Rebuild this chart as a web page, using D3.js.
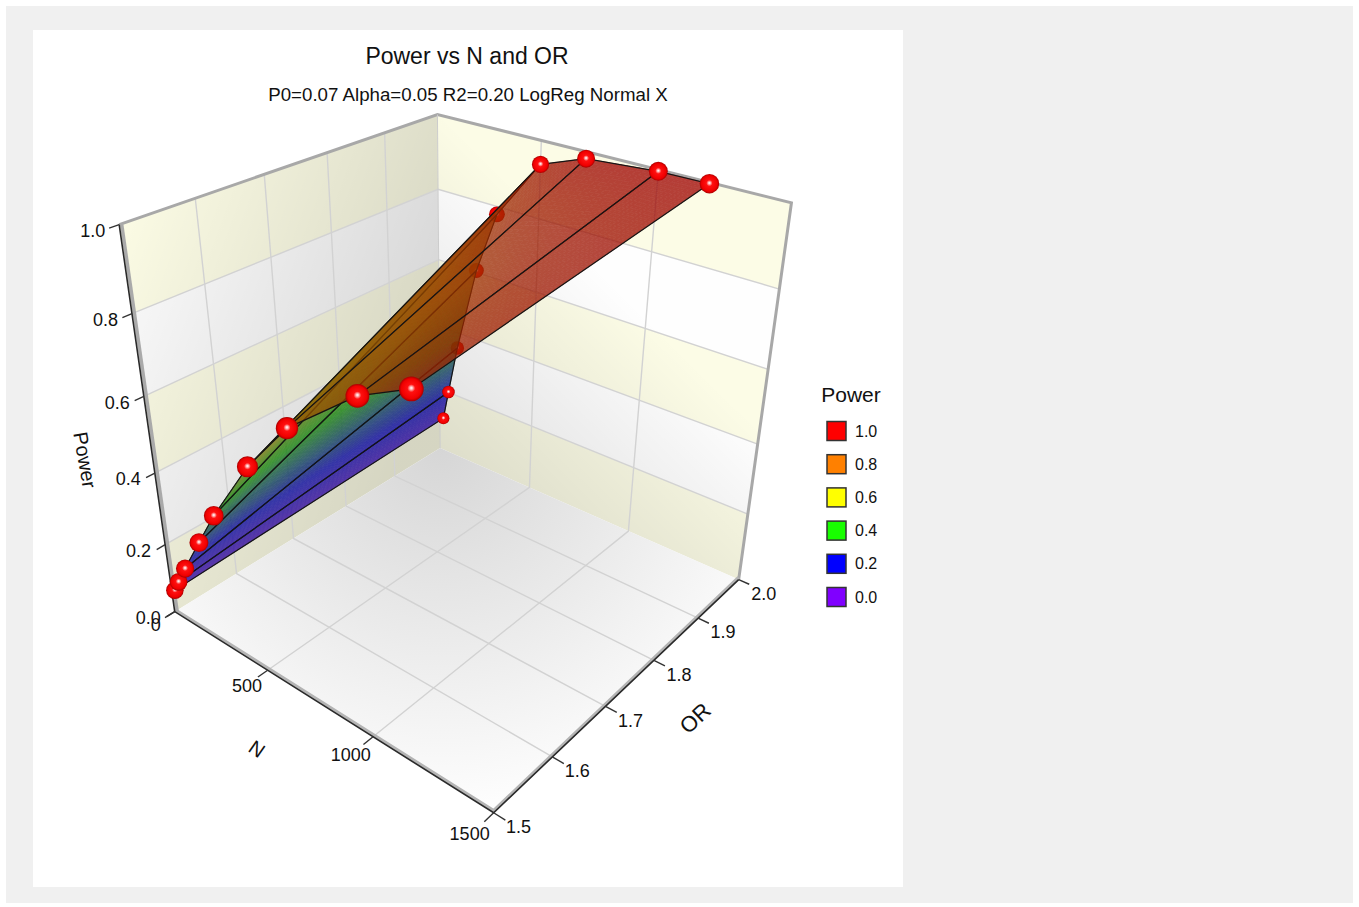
<!DOCTYPE html>
<html>
<head>
<meta charset="utf-8">
<script src="https://cdn.jsdelivr.net/npm/d3@7"></script>
<style>
  body { margin: 0; background: #fff; }
  text { font-family: "Liberation Sans", Arial, sans-serif; fill: #111; }
</style>
</head>
<body>
<svg id="chart" width="1359" height="907"></svg>
<script>
// data
var nValues = [20, 50, 100, 200, 300, 500, 700, 1000, 1200];
var orValues = [1.5, 2.0];
var powerLow = [0.072, 0.107, 0.162, 0.267, 0.370, 0.551, 0.694, 0.837, 0.898]; // OR 1.5
var powerHigh = [0.107, 0.201, 0.353, 0.605, 0.779, 0.940, 0.983, 0.996, 0.997]; // OR 2.0

// axis ticks
var nTicks = [0, 500, 1000, 1500];
var orTicks = [1.5, 1.6, 1.7, 1.8, 1.9, 2.0];
var powerTicks = [0, 0.2, 0.4, 0.6, 0.8, 1.0];

// legend
var legendLabels = ["1.0", "0.8", "0.6", "0.4", "0.2", "0.0"];
var legendColors = ["#ff0000", "#ff8000", "#ffff00", "#18ff00", "#0000ff", "#8000ff"];

// perspective camera, fitted to the box corners in the picture
var camX = [231.1984, 359.8484, -75.0749, 174.7219];
var camY = [56.7075, -67.4757, -423.8972, 611.6432];
var camW = [-0.1777, 0.2144, -0.1640, 1];

var svg = d3.select("#chart");
var defs = svg.append("defs");

// scales, data to unit box
var xScale = d3.scaleLinear().domain([0, 1500]).range([0, 1]);
var yScale = d3.scaleLinear().domain([1.5, 2.0]).range([0, 1]);
var zScale = d3.scaleLinear().domain([0, 1]).range([0, 1]);

// surface colours, the lit sheet is duller than the legend
var powerColor = d3.scaleLinear()
  .domain([0, 0.2, 0.4, 0.6, 0.8, 1.0])
  .range(["#8000ff", "#0000ff", "#14cc00", "#d8b800", "#ff7000", "#ff0000"]);

// marker size follows the depth
var radiusScale = d3.scaleLinear().domain([0.7, 1.2]).range([12.5, 6]);

function depth(p) {
  return camW[0] * p[0] + camW[1] * p[1] + camW[2] * p[2] + camW[3];
}

// unit box point to screen
function project(p) {
  var w = depth(p);
  return [
    (camX[0] * p[0] + camX[1] * p[1] + camX[2] * p[2] + camX[3]) / w,
    (camY[0] * p[0] + camY[1] * p[1] + camY[2] * p[2] + camY[3]) / w
  ];
}

function linePath(points) {
  return "M" + points.map(function(p) {
    return project(p).map(function(v) { return v.toFixed(2); }).join(",");
  }).join("L");
}

function toPath(points) {
  return linePath(points) + "Z";
}

function shadeGradient(id, from, to, a0, a1) {
  var g = defs.append("linearGradient")
    .attr("id", id)
    .attr("gradientUnits", "userSpaceOnUse")
    .attr("x1", from[0]).attr("y1", from[1])
    .attr("x2", to[0]).attr("y2", to[1]);
  g.append("stop").attr("offset", 0).attr("stop-color", "#000").attr("stop-opacity", a0);
  g.append("stop").attr("offset", 1).attr("stop-color", "#000").attr("stop-opacity", a1);
}

// page background and plot panel
svg.append("rect").attr("x", 6).attr("y", 6).attr("width", 1347).attr("height", 897).attr("fill", "#f0f0f0");
svg.append("rect").attr("x", 33).attr("y", 30).attr("width", 870).attr("height", 857).attr("fill", "#fff");

svg.append("text").attr("x", 467).attr("y", 64).attr("text-anchor", "middle")
  .attr("font-size", 23).text("Power vs N and OR");
svg.append("text").attr("x", 468).attr("y", 101).attr("text-anchor", "middle")
  .attr("font-size", 18.7).text("P0=0.07 Alpha=0.05 R2=0.20 LogReg Normal X");

// shading
shadeGradient("leftShade", project([0, 0, 1]), project([0, 1, 0.35]), 0, 0.15);
shadeGradient("backShade", project([0, 1, 0]), project([0.55, 1, 0.7]), 0.12, 0);

var floorCorner = project([0, 1, 0]);
var floorShade = defs.append("radialGradient").attr("id", "floorShade")
  .attr("gradientUnits", "userSpaceOnUse")
  .attr("cx", floorCorner[0]).attr("cy", floorCorner[1]).attr("r", 375);
floorShade.append("stop").attr("offset", 0).attr("stop-color", "#d6d6d6");
floorShade.append("stop").attr("offset", 1).attr("stop-color", "#ffffff");

var bands = d3.range(powerTicks.length - 1);

// left wall (N = 0)
var leftWall = svg.append("g");
leftWall.selectAll("path").data(bands).enter().append("path")
  .attr("d", function(i) {
    return toPath([[0, 0, zScale(powerTicks[i])], [0, 1, zScale(powerTicks[i])], [0, 1, zScale(powerTicks[i + 1])], [0, 0, zScale(powerTicks[i + 1])]]);
  })
  .attr("fill", function(i) { return i % 2 === 0 ? "#fbfbe4" : "#fbfbfb"; });
leftWall.append("path").attr("d", toPath([[0, 0, 0], [0, 1, 0], [0, 1, 1], [0, 0, 1]])).attr("fill", "url(#leftShade)");

// back wall (OR = 2.0)
var backWall = svg.append("g");
backWall.selectAll("path").data(bands).enter().append("path")
  .attr("d", function(i) {
    return toPath([[0, 1, zScale(powerTicks[i])], [1, 1, zScale(powerTicks[i])], [1, 1, zScale(powerTicks[i + 1])], [0, 1, zScale(powerTicks[i + 1])]]);
  })
  .attr("fill", function(i) { return i % 2 === 0 ? "#fcfce6" : "#fefefe"; });
backWall.append("path").attr("d", toPath([[0, 1, 0], [1, 1, 0], [1, 1, 1], [0, 1, 1]])).attr("fill", "url(#backShade)");

// floor
svg.append("path").attr("d", toPath([[0, 0, 0], [1, 0, 0], [1, 1, 0], [0, 1, 0]])).attr("fill", "url(#floorShade)");

// grid lines
var grid = svg.append("g").attr("fill", "none").attr("stroke", "#d2d2d2").attr("stroke-width", 1.4);
nTicks.slice(1, -1).forEach(function(n) {
  var x = xScale(n);
  grid.append("path").attr("d", linePath([[x, 0, 0], [x, 1, 0], [x, 1, 1]]));
});
orTicks.slice(1, -1).forEach(function(o) {
  var y = yScale(o);
  grid.append("path").attr("d", linePath([[1, y, 0], [0, y, 0], [0, y, 1]]));
});
powerTicks.slice(1, -1).forEach(function(v) {
  var z = zScale(v);
  grid.append("path").attr("d", linePath([[0, 0, z], [0, 1, z], [1, 1, z]]));
});

// box edges
var edges = svg.append("g").attr("fill", "none");
edges.append("path").attr("d", linePath([[0, 0, 1], [0, 1, 1], [1, 1, 1], [1, 1, 0]]))
  .attr("stroke", "#a8a8a8").attr("stroke-width", 3);
edges.append("path").attr("d", linePath([[0, 1, 0], [0, 1, 1]]))
  .attr("stroke", "#cccccc").attr("stroke-width", 1);
edges.append("path").attr("d", linePath([[0, 0, 0], [1, 0, 0], [1, 1, 0]]))
  .attr("stroke", "#b4b4b4").attr("stroke-width", 3.5).attr("transform", "translate(0,-2)");
edges.append("path").attr("d", linePath([[0, 0, 0], [0, 0, 1]]))
  .attr("stroke", "#aaaaaa").attr("stroke-width", 3.5).attr("transform", "translate(2.5,0)");
edges.append("path").attr("d", linePath([[0, 0, 1], [0, 0, 0], [1, 0, 0], [1, 1, 0]]))
  .attr("stroke", "#2a2a2a").attr("stroke-width", 1.6);

// ticks and tick labels
var ticks = svg.append("g").attr("stroke", "#333").attr("stroke-width", 1.4).attr("fill", "none");
var labels = svg.append("g").attr("font-size", 18);

powerTicks.forEach(function(v) {
  var z = zScale(v);
  ticks.append("path").attr("d", linePath([[0, 0, z], [0, -0.025, z]]));
  var p = project([0, 0, z]);
  labels.append("text").attr("x", p[0] - 14).attr("y", p[1] + 6).attr("dy", "0.35em")
    .attr("text-anchor", "end").text(v.toFixed(1));
});

var nLabelDx = d3.scaleLinear().domain([0, 1500]).range([-19, -24]);
var nLabelDy = d3.scaleLinear().domain([0, 1500]).range([13, 21]);
nTicks.forEach(function(n) {
  var x = xScale(n);
  ticks.append("path").attr("d", linePath([[x, 0, 0], [x, -0.03, 0]]));
  var p = project([x, 0, 0]);
  labels.append("text").attr("x", p[0] + nLabelDx(n)).attr("y", p[1] + nLabelDy(n)).attr("dy", "0.35em")
    .attr("text-anchor", "middle").text(n);
});

orTicks.forEach(function(o) {
  var y = yScale(o);
  ticks.append("path").attr("d", linePath([[1, y, 0], [1.03, y, 0]]));
  var p = project([1, y, 0]);
  labels.append("text").attr("x", p[0] + 25).attr("y", p[1] + 14).attr("dy", "0.35em")
    .attr("text-anchor", "middle").text(o.toFixed(1));
});

// axis titles
svg.append("text").attr("transform", "translate(85,460) rotate(80)").attr("text-anchor", "middle")
  .attr("dy", "0.35em").attr("font-size", 20).text("Power");
svg.append("text").attr("transform", "translate(257,749) rotate(35)").attr("text-anchor", "middle")
  .attr("dy", "0.35em").attr("font-size", 20).text("N");
svg.append("text").attr("transform", "translate(695,718) rotate(-43)").attr("text-anchor", "middle")
  .attr("dy", "0.35em").attr("font-size", 22).text("OR");

// sphere look for the markers
var ball = defs.append("radialGradient").attr("id", "ball").attr("cx", 0.5).attr("cy", 0.5).attr("r", 0.5).attr("fx", 0.5).attr("fy", 0.46);
[[0, "#ffffff"], [0.1, "#ffc8c8"], [0.32, "#ff1010"], [0.8, "#f00000"], [1, "#a80000"]].forEach(function(s) {
  ball.append("stop").attr("offset", s[0]).attr("stop-color", s[1]);
});

function drawMarkers(group, powers, orValue, keep) {
  var rows = powers.map(function(d, i) {
    return { point: [xScale(nValues[i]), yScale(orValue), zScale(d)], n: nValues[i] };
  }).filter(keep);
  group.selectAll("circle").data(rows).enter().append("circle")
    .attr("cx", function(d) { return project(d.point)[0]; })
    .attr("cy", function(d) { return project(d.point)[1]; })
    .attr("r", function(d) { return radiusScale(depth(d.point)); })
    .attr("fill", "url(#ball)");
}

// these far markers sit behind the sheet and show through it
function coveredBySheet(d) { return d.n >= 100 && d.n <= 300; }

drawMarkers(svg.append("g"), powerHigh, orValues[1], coveredBySheet);

// surface, one strip per N step, low N first so the high N part sits in front
var surface = svg.append("g");
var cellsAlong = 12;
var cellsAcross = 60;

d3.range(nValues.length - 1).forEach(function(i) {
  var strip = surface.append("g");
  var cellGroup = strip.append("g").attr("opacity", 0.76);

  // point on the strip, s along N and t along OR
  function corner(s, t) {
    var n0 = [xScale(nValues[i]), 0, zScale(powerLow[i])];
    var n1 = [xScale(nValues[i + 1]), 0, zScale(powerLow[i + 1])];
    var f0 = [xScale(nValues[i]), 1, zScale(powerHigh[i])];
    var f1 = [xScale(nValues[i + 1]), 1, zScale(powerHigh[i + 1])];
    return [0, 1, 2].map(function(k) {
      return (1 - s) * ((1 - t) * n0[k] + t * f0[k]) + s * ((1 - t) * n1[k] + t * f1[k]);
    });
  }

  d3.range(cellsAlong).forEach(function(a) {
    d3.range(cellsAcross).forEach(function(b) {
      var s0 = a / cellsAlong, s1 = (a + 1) / cellsAlong;
      var t0 = b / cellsAcross, t1 = (b + 1) / cellsAcross;
      var mid = corner((s0 + s1) / 2, (t0 + t1) / 2)[2];
      var c = d3.rgb(powerColor(mid)).darker(1.35).formatHex();
      cellGroup.append("path")
        .attr("d", toPath([corner(s0, t0), corner(s1, t0), corner(s1, t1), corner(s0, t1)]))
        .attr("fill", c).attr("stroke", c).attr("stroke-width", 0.7);
    });
  });

  strip.append("path")
    .attr("d", toPath([corner(0, 0), corner(1, 0), corner(1, 1), corner(0, 1)]))
    .attr("fill", "none").attr("stroke", "#151515").attr("stroke-width", 1.2);
});

// the other far markers and the near ones on top
drawMarkers(svg.append("g"), powerHigh, orValues[1], function(d) { return !coveredBySheet(d); });
drawMarkers(svg.append("g"), powerLow, orValues[0], function() { return true; });

// legend
svg.append("text").attr("x", 851).attr("y", 402).attr("text-anchor", "middle").attr("font-size", 21).text("Power");
var legendY = d3.scalePoint().domain(legendLabels).range([431, 597]);
var legend = svg.append("g").selectAll("g").data(legendLabels).enter().append("g")
  .attr("transform", function(d) { return "translate(0," + legendY(d) + ")"; });
legend.append("rect").attr("x", 827).attr("y", -9.5).attr("width", 19).attr("height", 19)
  .attr("fill", function(d, i) { return legendColors[i]; })
  .attr("stroke", "#333").attr("stroke-width", 1.5);
legend.append("text").attr("x", 855).attr("dy", "0.35em").attr("font-size", 16).text(function(d) { return d; });
</script>
</body>
</html>
